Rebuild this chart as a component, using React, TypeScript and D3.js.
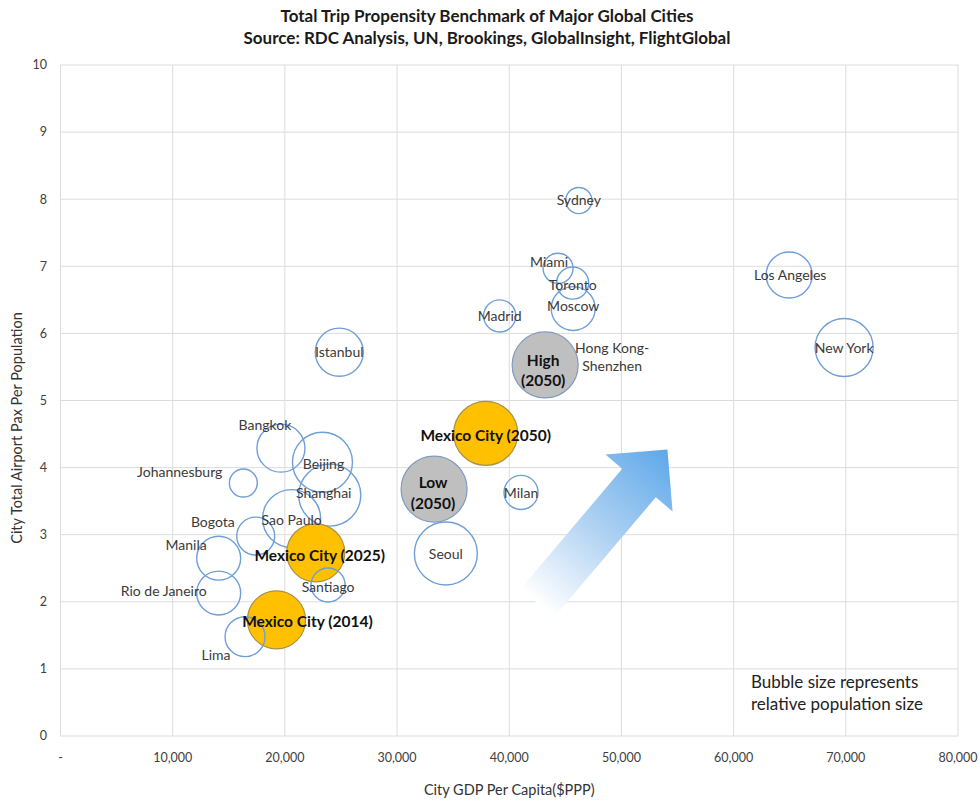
import React from "react";
import * as d3 from "d3";

// ---------- data ----------
const cities = [
  "Bangkok", "Beijing", "Johannesburg", "Shanghai", "Sao Paulo", "Bogota", "Manila",
  "Rio de Janeiro", "Istanbul", "Sydney", "Miami", "Toronto", "Moscow", "Madrid",
  "Hong Kong-Shenzhen", "High (2050)", "Low (2050)", "Seoul", "Milan", "Los Angeles",
  "New York", "Mexico City (2025)", "Mexico City (2014)", "Mexico City (2050)", "Santiago", "Lima",
];
const gdpPerCapita = [
  19650, 23350, 16300, 24000, 20600, 17400, 14100,
  14100, 24850, 46200, 44350, 45650, 45700, 39150,
  43200, 43200, 33300, 34350, 41050, 64950,
  69850, 22750, 19250, 37900, 23850, 16450,
];
const paxPerPop = [
  4.29, 4.08, 3.77, 3.59, 3.24, 2.98, 2.65,
  2.13, 5.72, 7.98, 6.97, 6.75, 6.37, 6.26,
  5.5, 5.53, 3.68, 2.72, 3.63, 6.87,
  5.79, 2.73, 1.73, 4.51, 2.25, 1.48,
];
const population = [
  15.9, 24.8, 5.4, 26.5, 23.2, 9.9, 13.3,
  13.3, 15.9, 4.7, 6.2, 7.1, 13.3, 7.1,
  24.8, 30.0, 30.0, 27.3, 8.0, 14.6,
  23.2, 23.2, 23.2, 28.2, 8.0, 11.0,
];
const kinds = [
  "city", "city", "city", "city", "city", "city", "city",
  "city", "city", "city", "city", "city", "city", "city",
  "city", "scenario", "scenario", "city", "city", "city",
  "city", "mexico", "mexico", "mexico", "city", "city",
];

const xTicks = [0, 10000, 20000, 30000, 40000, 50000, 60000, 70000, 80000];
const yTicks = [0, 1, 2, 3, 4, 5, 6, 7, 8, 9, 10];

const titleLines = [
  "Total Trip Propensity Benchmark of Major Global Cities",
  "Source: RDC Analysis, UN, Brookings, GlobalInsight, FlightGlobal",
];
const noteLines = ["Bubble size represents", "relative population size"];
// arrow annotation in data space (tail centre -> tip)
const arrowFrom = [42500, 1.98];
const arrowTo = [54100, 4.27];

// ---------- label layout (pixel offsets from bubble centre) ----------
const labelLayout: Record<string, { dx: number; dy: number; anchor?: string; lines?: string[]; dys?: number[] }> = {
  "Bangkok": { dx: -16, dy: -23 },
  "Beijing": { dx: 1, dy: 2 },
  "Johannesburg": { dx: -21, dy: -11, anchor: "end" },
  "Shanghai": { dx: -6, dy: -2 },
  "Sao Paulo": { dx: 0, dy: 2 },
  "Bogota": { dx: -21, dy: -14, anchor: "end" },
  "Manila": { dx: -12, dy: -13, anchor: "end" },
  "Rio de Janeiro": { dx: -12, dy: -2, anchor: "end" },
  "Istanbul": { dx: 0, dy: 0 },
  "Sydney": { dx: 0, dy: 0 },
  "Miami": { dx: -9, dy: -6 },
  "Toronto": { dx: 0, dy: 2 },
  "Moscow": { dx: 0, dy: -2 },
  "Madrid": { dx: 0, dy: 0 },
  "Hong Kong-Shenzhen": { dx: 67, dy: -10, lines: ["Hong Kong-", "Shenzhen"], dys: [-9, 9] },
  "High (2050)": { dx: -2, dy: 0, lines: ["High", "(2050)"], dys: [-4, 16] },
  "Low (2050)": { dx: -1, dy: 0, lines: ["Low", "(2050)"], dys: [-6, 15] },
  "Seoul": { dx: 0, dy: 1 },
  "Milan": { dx: 0, dy: 1 },
  "Los Angeles": { dx: 1, dy: 0 },
  "New York": { dx: 0, dy: 1 },
  "Mexico City (2025)": { dx: 4, dy: 3 },
  "Mexico City (2014)": { dx: 31, dy: 2 },
  "Mexico City (2050)": { dx: 0, dy: 2 },
  "Santiago": { dx: 0, dy: 2 },
  "Lima": { dx: -29, dy: 18 },
};

const W = 980;
const H = 803;
const M = { left: 60.5, right: 958, top: 65, bottom: 736 };
const FONT = "Lato, 'Open Sans', sans-serif";

export default function App() {
  const x = d3.scaleLinear().domain([0, 80000]).range([M.left, M.right]);
  const y = d3.scaleLinear().domain([0, 10]).range([M.bottom, M.top]);
  const r = d3.scaleSqrt().domain([0, 30]).range([0, 33]);
  const fmt = d3.format(",");

  const points = cities.map((name, i) => ({
    name,
    gx: gdpPerCapita[i],
    py: paxPerPop[i],
    pop: population[i],
    kind: kinds[i],
  }));

  // arrow geometry
  const ax0 = x(arrowFrom[0]), ay0 = y(arrowFrom[1]);
  const ax1 = x(arrowTo[0]), ay1 = y(arrowTo[1]);
  const len = Math.hypot(ax1 - ax0, ay1 - ay0);
  const ux = (ax1 - ax0) / len, uy = (ay1 - ay0) / len;
  const nx = -uy, ny = ux;
  const shaftHalf = 22, headHalf = 44, headLen = 44;
  const bx = ax1 - ux * headLen, by = ay1 - uy * headLen;
  const arrowPts: [number, number][] = [
    [ax0 + nx * shaftHalf, ay0 + ny * shaftHalf],
    [bx + nx * shaftHalf, by + ny * shaftHalf],
    [bx + nx * headHalf, by + ny * headHalf],
    [ax1, ay1],
    [bx - nx * headHalf, by - ny * headHalf],
    [bx - nx * shaftHalf, by - ny * shaftHalf],
    [ax0 - nx * shaftHalf, ay0 - ny * shaftHalf],
  ];
  const arrowPath = d3.line()(arrowPts) + "Z";

  const fillFor = (k: string) => (k === "mexico" ? "#ffc000" : k === "scenario" ? "#bfbfbf" : "none");
  const strokeFor = (k: string) => (k === "mexico" ? "#a89148" : k === "scenario" ? "#7f9cc0" : "#6f9fd8");

  return (
    <svg width={W} height={H} style={{ position: "absolute", left: 0, top: 0, background: "#fff" }} fontFamily={FONT}>
      <defs>
        <linearGradient id="arrowGrad" gradientUnits="userSpaceOnUse" x1={ax0} y1={ay0} x2={ax1} y2={ay1}>
          <stop offset="0" stopColor="#ffffff" />
          <stop offset="0.45" stopColor="#b3d4f3" />
          <stop offset="1" stopColor="#5ea8ea" />
        </linearGradient>
      </defs>
      <rect width={W} height={H} fill="#fff" />

      {/* title */}
      {titleLines.map((t, i) => (
        <text key={t} x={487} y={22 + i * 22} textAnchor="middle" fontSize={17} fontWeight="bold" fill="#1a1a1a">
          {t}
        </text>
      ))}

      {/* gridlines */}
      {yTicks.map((t) => (
        <line key={"gy" + t} x1={M.left} x2={M.right} y1={y(t)} y2={y(t)} stroke="#dcdcdc" strokeWidth={1} />
      ))}
      {xTicks.map((t) => (
        <line key={"gx" + t} x1={x(t)} x2={x(t)} y1={M.top} y2={M.bottom} stroke="#dcdcdc" strokeWidth={1} />
      ))}

      {/* tick labels */}
      {yTicks.map((t) => (
        <text key={"ty" + t} x={47} y={y(t)} dy="0.35em" textAnchor="end" fontSize={12.5} fill="#404040">
          {t}
        </text>
      ))}
      {xTicks.map((t) => (
        <text key={"tx" + t} x={x(t)} y={762} textAnchor="middle" fontSize={12.5} fill="#404040">
          {t === 0 ? "-" : fmt(t)}
        </text>
      ))}

      {/* axis titles */}
      <text x={(M.left + M.right) / 2} y={795} textAnchor="middle" fontSize={14.5} fill="#333">
        City GDP Per Capita($PPP)
      </text>
      <text transform={`translate(22, 428) rotate(-90)`} textAnchor="middle" fontSize={14.5} fill="#333">
        City Total Airport  Pax Per Population
      </text>

      {/* arrow */}
      <path d={arrowPath} fill="url(#arrowGrad)" />

      {/* bubbles */}
      {points.map((p) => (
        <circle
          key={"c" + p.name}
          cx={x(p.gx)}
          cy={y(p.py)}
          r={r(p.pop)}
          fill={fillFor(p.kind)}
          stroke={strokeFor(p.kind)}
          strokeWidth={p.kind === "city" ? 1.4 : 1.2}
        />
      ))}

      {/* labels */}
      {points.map((p) => {
        const L = labelLayout[p.name] || { dx: 0, dy: 0 };
        const bold = p.kind !== "city";
        const lines = L.lines || [p.name];
        const dys = L.dys || [0];
        return (
          <text
            key={"l" + p.name}
            x={x(p.gx) + L.dx}
            y={y(p.py) + L.dy}
            textAnchor={L.anchor || "middle"}
            fontSize={bold ? 15.5 : 14}
            fontWeight={bold ? "bold" : "normal"}
            fill={bold ? "#111" : "#3a3a3a"}
          >
            {lines.map((ln, i) => (
              <tspan key={ln} x={x(p.gx) + L.dx} y={y(p.py) + L.dy + dys[i]} dy="0.35em">
                {ln}
              </tspan>
            ))}
          </text>
        );
      })}

      {/* note */}
      {noteLines.map((t, i) => (
        <text key={t} x={751} y={682 + i * 22} dy="0.35em" fontSize={17} fill="#222">
          {t}
        </text>
      ))}
    </svg>
  );
}
